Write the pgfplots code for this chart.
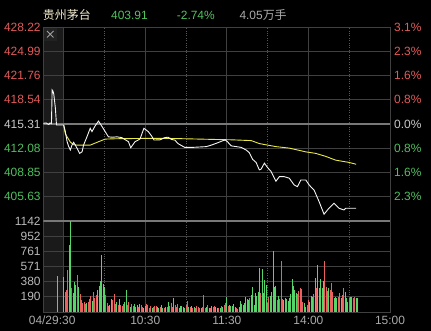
\documentclass[border=0pt]{standalone}
\usepackage{pgfplots}
\pgfplotsset{compat=1.18}
\usepackage{fontspec}
\setmainfont{Liberation Sans}
\newfontfamily\cjk{Noto Sans CJK SC}
\definecolor{bgc}{RGB}{0,0,0}
\definecolor{aucc}{RGB}{26,26,26}
\definecolor{iconc}{RGB}{34,34,34}
\definecolor{gridc}{RGB}{64,64,64}
\definecolor{dotc}{RGB}{88,88,88}
\definecolor{zeroc}{RGB}{120,120,120}
\definecolor{lr}{RGB}{226,90,90}
\definecolor{lg}{RGB}{80,190,95}
\definecolor{lz}{RGB}{200,200,200}
\definecolor{lv}{RGB}{185,185,185}
\definecolor{namec}{RGB}{240,234,205}
\definecolor{hgreen}{RGB}{80,195,95}
\definecolor{hgrey}{RGB}{170,170,170}
\definecolor{pricec}{RGB}{245,245,245}
\definecolor{avgc}{RGB}{232,232,70}
\definecolor{vgreen}{RGB}{84,214,104}
\definecolor{vred}{RGB}{236,96,96}
\newcommand{\tf}{\fontsize{12}{14}\selectfont}
\begin{document}
\begin{tikzpicture}
\useasboundingbox (0,0) rectangle (431bp,331bp);
\fill[bgc] (0,0) rectangle (431bp,331bp);
\fill[aucc] (43.3bp,19bp) rectangle (63.3bp,304bp);
% header
\node[anchor=west,inner sep=0,text=namec,font=\tf\cjk] at (42.7bp,316bp) {贵州茅台};
\node[anchor=west,inner sep=0,text=hgreen,font=\tf] at (111bp,316bp) {403.91};
\node[anchor=west,inner sep=0,text=hgreen,font=\tf] at (176.7bp,316bp) {-2.74\%};
\node[anchor=west,inner sep=0,text=hgrey,font=\tf] at (239.3bp,316bp) {4.05{\cjk 万手}};
% price panel
\begin{axis}[at={(43.3bp,110bp)}, anchor=south west, scale only axis,
  width=346.7bp, height=194bp,
  xmin=-15, xmax=240, ymin=402.40, ymax=428.22,
  axis line style={draw=gridc, line width=0.8bp},
  xtick=\empty,
  ytick={405.63,408.85,412.08,415.31,418.54,421.76,424.99,428.22},
  yticklabels={\textcolor{lg}{405.63},\textcolor{lg}{408.85},\textcolor{lg}{412.08},\textcolor{lz}{415.31},\textcolor{lr}{418.54},\textcolor{lr}{421.76},\textcolor{lr}{424.99},\textcolor{lr}{428.22}},
  yticklabel style={font=\tf, inner sep=2.5bp},
  ymajorgrids, major grid style={draw=gridc, line width=0.8bp},
  major tick length=0pt]
\draw[gridc, line width=0.8bp] (axis cs:0,402.4) -- (axis cs:0,428.22);
\draw[gridc, line width=0.8bp] (axis cs:60,402.4) -- (axis cs:60,428.22);
\draw[gridc, line width=0.8bp] (axis cs:120,402.4) -- (axis cs:120,428.22);
\draw[gridc, line width=0.8bp] (axis cs:180,402.4) -- (axis cs:180,428.22);
\draw[dotc, line width=0.7bp, dash pattern=on 0.8bp off 1.6bp] (axis cs:30,402.4) -- (axis cs:30,428.22);
\draw[dotc, line width=0.7bp, dash pattern=on 0.8bp off 1.6bp] (axis cs:90,402.4) -- (axis cs:90,428.22);
\draw[dotc, line width=0.7bp, dash pattern=on 0.8bp off 1.6bp] (axis cs:150,402.4) -- (axis cs:150,428.22);
\draw[dotc, line width=0.7bp, dash pattern=on 0.8bp off 1.6bp] (axis cs:210,402.4) -- (axis cs:210,428.22);
\draw[zeroc, line width=1.6bp] (axis cs:-15,415.31) -- (axis cs:240,415.31);
\addplot[avgc, line width=0.9bp, mark=none] coordinates {
(0,415.18) (1.2,414.0) (2.5,413.6) (4.9,412.9) (7.3,412.55) (9.8,412.5) (12.2,412.5) (19.5,412.5) (25.6,412.95) (30.5,413.3) (39,413.35) (63.4,413.4) (75.7,413.4) (100,413.3) (124.4,413.2) (137.9,413.1) (144,412.7) (156.1,412.3) (165.9,412.1) (178.1,411.6) (185.4,411.4) (192.7,411.0) (200,410.5) (209.8,410.2) (215.1,409.95)};
\addplot[pricec, line width=0.9bp, mark=none] coordinates {
(-15,415.40) (-13,415.45) (-11,415.25) (-10,415.45) (-9,415.35) (-8.5,419.84) (-7.9,419.7) (-7.3,419.3) (-6.1,417.4) (-5.3,415.18) (0,415.18) (1.2,414.3) (2.5,412.96) (3.7,412.3) (4.9,411.85) (6.1,412.5) (7.3,412.87) (8.6,412.5) (9.8,412.08) (11.7,411.4) (13.5,411.6) (14.6,412.5) (17.1,413.6) (19.5,414.74) (20.8,414.3) (23.2,415.08) (25.6,415.7) (28.1,415.0) (30.5,414.3) (32.9,413.6) (36,413.55) (39.1,413.6) (42.7,413.5) (47.6,412.96) (49.3,412.15) (52.5,412.96) (56.1,413.3) (59,414.74) (62.2,414.3) (64.7,413.7) (66.4,413.18) (70.8,413.2) (74.4,413.5) (76.8,413.55) (79.3,413.25) (81.7,413.18) (84.1,412.7) (89,412.2) (95.1,412.2) (100,412.25) (104.9,412.3) (108.6,412.5) (113.4,412.82) (117.1,413.09) (119,413.18) (120.7,412.9) (123.2,412.4) (126.9,412.3) (130.5,412.2) (134.2,411.85) (136.5,411.5) (139,410.6) (141.5,410.2) (143.9,409.2) (145.2,409.3) (147.6,410.1) (150,409.5) (152.5,409.0) (156.1,407.7) (158.6,408.3) (162.2,408.3) (165.9,408.1) (169.5,407.2) (171.9,406.97) (174.4,407.86) (178.1,407.86) (180.5,407.2) (184.2,406.5) (187.8,405.0) (191.5,403.3) (195.1,404.1) (198.8,404.75) (202.4,404.1) (206.1,403.87) (207.4,404.1) (215.1,404.1)};
\end{axis}
% right percentage labels
\begin{axis}[at={(43.3bp,110bp)}, anchor=south west, scale only axis,
  width=346.7bp, height=194bp,
  xmin=-15, xmax=240, ymin=402.40, ymax=428.22,
  axis y line*=right, axis x line=none,
  y axis line style={draw=none},
  ytick={405.63,408.85,412.08,415.31,418.54,421.76,424.99,428.22},
  yticklabels={\textcolor{lg}{2.3\%},\textcolor{lg}{1.6\%},\textcolor{lg}{0.8\%},\textcolor{lz}{0.0\%},\textcolor{lr}{0.8\%},\textcolor{lr}{1.6\%},\textcolor{lr}{2.3\%},\textcolor{lr}{3.1\%}},
  yticklabel style={font=\tf, inner sep=4bp},
  major tick length=0pt]
\end{axis}
% volume panel
\begin{axis}[at={(43.3bp,19bp)}, anchor=south west, scale only axis,
  width=346.7bp, height=91bp,
  xmin=-15, xmax=240, ymin=0, ymax=1142,
  axis line style={draw=gridc, line width=0.8bp},
  ytick={190,380,571,761,952,1142},
  yticklabels={190,380,571,761,952,1142},
  yticklabel style={font=\tf, text=lv, inner sep=2.5bp},
  xtick={-8.5,60,120,180,240},
  xticklabels={04/29:30,10:30,11:30,14:00,15:00},
  xticklabel style={font=\tf, text=hgrey, inner sep=2bp, yshift=-1.5bp},
  ymajorgrids, major grid style={draw=gridc, line width=0.8bp},
  major tick length=0pt]
\draw[gridc, line width=0.8bp] (axis cs:0,0) -- (axis cs:0,1142);
\draw[gridc, line width=0.8bp] (axis cs:60,0) -- (axis cs:60,1142);
\draw[gridc, line width=0.8bp] (axis cs:120,0) -- (axis cs:120,1142);
\draw[gridc, line width=0.8bp] (axis cs:180,0) -- (axis cs:180,1142);
\draw[dotc, line width=0.7bp, dash pattern=on 0.8bp off 1.6bp] (axis cs:30,0) -- (axis cs:30,1142);
\draw[dotc, line width=0.7bp, dash pattern=on 0.8bp off 1.6bp] (axis cs:90,0) -- (axis cs:90,1142);
\draw[dotc, line width=0.7bp, dash pattern=on 0.8bp off 1.6bp] (axis cs:150,0) -- (axis cs:150,1142);
\draw[dotc, line width=0.7bp, dash pattern=on 0.8bp off 1.6bp] (axis cs:210,0) -- (axis cs:210,1142);
\draw[zeroc, line width=1.6bp] (axis cs:-15,1142) -- (axis cs:240,1142);
\addplot[ycomb, vred, line width=1bp, mark=none] coordinates {
(1,250) (2,270) (3,530) (6,300) (10,460) (12,220) (13,150) (14,110) (15,120) (16,100) (18,130) (19,160) (20,200) (22,250) (23,180) (24,210) (31,210) (32,110) (33,70) (36,150) (37,230) (38,100) (40,90) (42,90) (43,80) (44,100) (47,90) (48,120) (50,95) (51,80) (55,60) (57,85) (58,65) (61,95) (62,85) (63,55) (64,80) (66,67) (67,80) (68,78) (71,67) (74,55) (76,67) (78,80) (79,109) (80,67) (82,88) (83,67) (84,95) (90,88) (91,142) (93,67) (95,55) (97,45) (98,80) (99,67) (100,45) (102,67) (103,213) (104,55) (106,88) (108,55) (110,67) (111,80) (114,55) (116,75) (118,88) (119,109) (121,80) (127,46) (128,34) (137,171) (145,234) (150,109) (151,192) (157,150) (159,160) (160,640) (161,160) (172,220) (173,260) (174,297) (175,284) (176,130) (179,88) (180,150) (184,230) (186,297) (192,640) (193,318) (194,265) (196,277) (197,360) (198,255) (202,192) (203,234) (205,213) (206,297) (210,180) (213,171) (214,192)};
\addplot[ycomb, vgreen, line width=1bp, mark=none] coordinates {
(-4.4,452) (0,440) (4,846) (5,1142) (7,235) (8,382) (9,340) (11,320) (17,110) (21,140) (25,270) (26,330) (27,390) (28,720) (29,350) (30,310) (34,90) (35,160) (39,120) (41,160) (45,120) (46,280) (49,60) (52,100) (53,67) (54,88) (56,100) (59,55) (60,70) (65,45) (69,65) (70,48) (72,85) (73,45) (75,67) (77,130) (81,180) (85,55) (86,80) (87,80) (88,67) (89,55) (92,67) (94,80) (96,67) (101,55) (105,67) (107,55) (109,80) (112,67) (113,45) (115,45) (117,67) (120,192) (122,88) (123,80) (124,70) (125,95) (126,60) (129,67) (130,138) (131,100) (132,88) (133,109) (134,184) (135,159) (136,150) (138,213) (139,318) (140,88) (141,234) (142,200) (143,255) (144,548) (146,535) (147,243) (148,401) (149,339) (152,200) (153,250) (154,769) (155,310) (156,330) (158,200) (162,150) (163,170) (164,160) (165,140) (166,180) (167,230) (168,420) (169,330) (170,280) (171,240) (177,110) (178,67) (181,120) (182,200) (183,192) (185,422) (187,589) (188,297) (189,414) (190,297) (191,389) (195,297) (199,180) (200,192) (201,180) (204,180) (207,255) (208,171) (209,130) (211,192) (212,192) (215,180) (216,171)};
\end{axis}
% close icon
\fill[iconc] (44bp,290.3bp) rectangle (56.5bp,303bp);
\draw[lz!80!black, line width=0.8bp] (47bp,293.5bp) -- (53.5bp,300bp) (47bp,300bp) -- (53.5bp,293.5bp);
\end{tikzpicture}
\end{document}
